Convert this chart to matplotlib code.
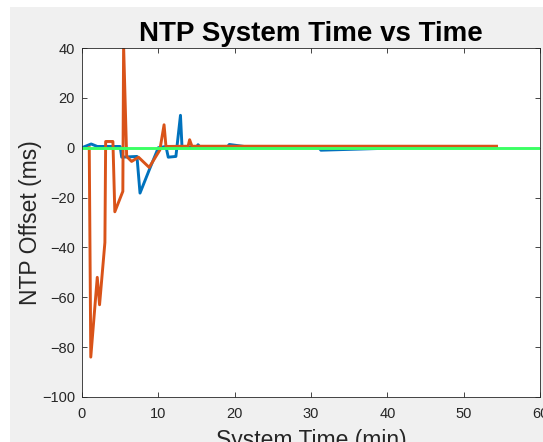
import numpy as np
import matplotlib
matplotlib.use("Agg")
import matplotlib.pyplot as plt
from matplotlib.patches import Rectangle

# offsets (minutes, ms)
blue_t = [0, 1.2, 2.0, 5.0, 5.2, 7.2, 7.6, 8.9, 10.0, 11.0, 11.3, 12.3, 12.9, 13.1,
          15.0, 15.2, 15.5, 19.0, 19.3, 21.0, 22.0, 31.0, 31.3, 39.0, 42.0, 54.3]
blue_v = [0, 1.5, 0.5, 0.5, -3.8, -3.5, -18.2, -8.2, 0.0, 0.5, -3.8, -3.5, 13.0, 0.3,
          0.2, 1.2, 0.2, 0.2, 1.3, 0.6, 0.2, 0.2, -1.0, -0.3, 0.2, 0.2]

orange_t = [0.95, 1.15, 2.0, 2.3, 3.0, 3.1, 4.05, 4.3, 5.35, 5.45, 5.85, 6.5, 7.4,
            8.8, 10.2, 10.75, 11.0, 13.9, 14.1, 14.4, 54.3]
orange_v = [0, -84, -52, -63, -38, 2.5, 2.5, -25.7, -17.5, 41, -3.5, -5.5, -3.8,
            -7.9, -0.9, 9.2, 0.5, 0.6, 3.2, 0.6, 0.6]

green_t = [0, 60]
green_v = [0, 0]

xticks = [0, 10, 20, 30, 40, 50, 60]
yticks = [-100, -80, -60, -40, -20, 0, 20, 40]

plt.rcParams['font.family'] = ['Liberation Sans', 'DejaVu Sans']

fig = plt.figure(figsize=(5.43, 4.42), dpi=100, facecolor='white')
# grey matlab window area, the screenshot has a thin white strip top/left
fig.patches.append(Rectangle((10 / 543, 0), 1, (442 - 7) / 442,
                             transform=fig.transFigure, facecolor='#f0f0f0',
                             edgecolor='none', zorder=-10))

ax = fig.add_axes([82 / 543, 45 / 442, 458 / 543, 349 / 442])
ax.set_facecolor('white')

ax.plot(blue_t, blue_v, color='#0072BD', lw=2.1)
ax.plot(orange_t, orange_v, color='#D95319', lw=2.1)
ax.plot(green_t, green_v, color='#3cff64', lw=2.1)

ax.set_xlim(0, 60)
ax.set_ylim(-100, 40)
ax.set_xticks(xticks)
ax.set_yticks(yticks)
ax.tick_params(direction='in', top=True, right=True, length=3.5, width=0.6,
               colors='#262626', labelsize=10.5)
ax.tick_params(axis='x', pad=7)
ax.tick_params(axis='y', pad=5)
for s in ax.spines.values():
    s.set_color('#262626')
    s.set_linewidth(0.6)

ax.set_title('NTP System Time vs Time', fontsize=20, fontweight='bold', pad=5)
ax.set_xlabel('System Time (min)', fontsize=16.5, color='#262626', labelpad=6)
ax.set_ylabel('NTP Offset (ms)', fontsize=16.5, color='#262626', labelpad=0)

fig.savefig('out.png', dpi=100, facecolor=fig.get_facecolor())
